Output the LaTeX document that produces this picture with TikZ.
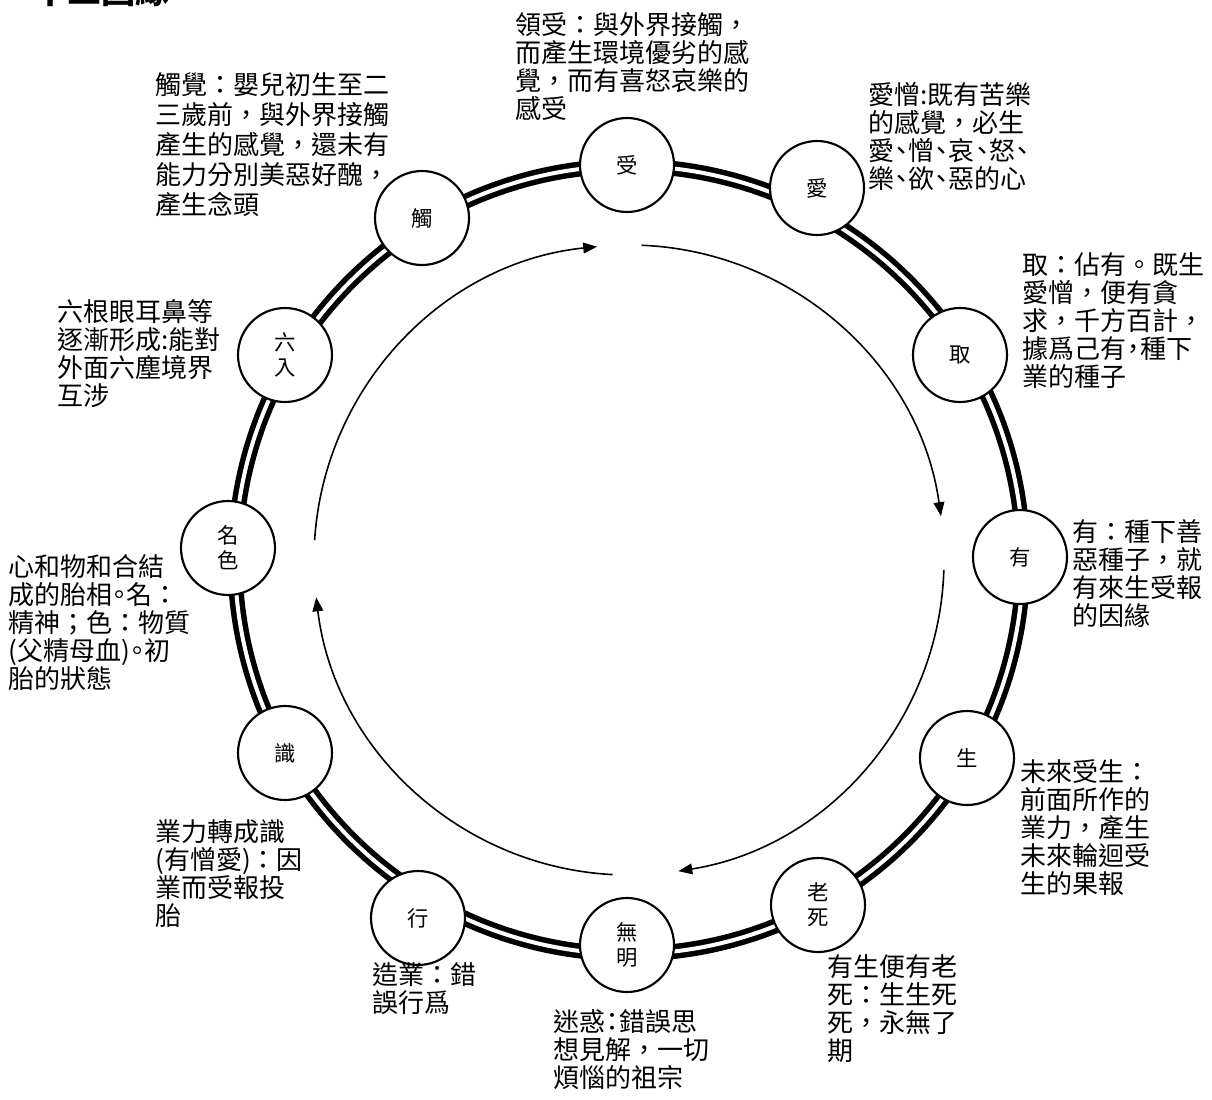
\documentclass[tikz,border=0pt]{standalone}
\usepackage{fontspec}
\setmainfont{Noto Sans CJK TC}
\usetikzlibrary{arrows.meta,calc}
\newcommand\cpct[1]{\makebox[0.55em][c]{#1}}
\tikzset{
  stage/.style={circle, draw, line width=1.6pt, fill=white, minimum size=70.5pt, inner sep=0pt,
    font=\fontsize{16}{19}\selectfont, align=center},
  desc/.style={anchor=north west, inner sep=0pt, align=left, font=\fontsize{19.5}{21}\selectfont},
  flow/.style={line width=1.2pt, -{Triangle[length=10.5pt,width=8pt]}},
  ringout/.style={line width=11.25pt, black},
  ringin/.style={line width=3pt, white}
}
\begin{document}
\begin{tikzpicture}[x=0.75pt,y=-0.75pt]
\useasboundingbox (0,0) rectangle (1212,1099);
\fill[white] (0,0) rectangle (1212,1099);
% title (cut off at top, as in the reference)
\node[anchor=base west, inner sep=0pt, font=\fontsize{25.5}{30}\selectfont\bfseries] (title) at (33,4) {十二因緣};
% ring
\coordinate (C) at (629,560);
\draw[ringout] (C) circle[radius=394];
\draw[ringin] (C) circle[radius=394];
% inner flow arcs
\draw[flow] ($(C)+(-87.7:315)$) arc[start angle=-87.7, end angle=-8, radius=315];
\draw[flow] ($(C)+(1.8:315)$) arc[start angle=1.8, end angle=81, radius=315];
\draw[flow] ($(C)+(93:315)$) arc[start angle=93, end angle=173.2, radius=315];
\draw[flow] ($(C)+(183.6:315)$) arc[start angle=183.6, end angle=264.2, radius=315];
% stages
\node[stage] (shou) at (627,165) {受};
\node[stage] (ai) at (817,188) {愛};
\node[stage] (qu) at (960,355) {取};
\node[stage] (you) at (1020,557) {有};
\node[stage] (sheng) at (967,758) {生};
\node[stage] (laosi) at (818,905) {老\\死};
\node[stage] (wuming) at (627,945) {無\\明};
\node[stage] (xing) at (418,918) {行};
\node[stage] (shi) at (285,753) {識};
\node[stage] (mingse) at (228,548) {名\\色};
\node[stage] (liuru) at (285,355) {六\\入};
\node[stage] (chu) at (422,218) {觸};
% descriptions
\node[desc] (dshou) at (515,12) {領受：與外界接觸，\\而產生環境優劣的感\\覺，而有喜怒哀樂的\\感受};
\node[desc, font=\fontsize{19.5}{22.5}\selectfont] (dchu) at (155,72) {觸覺：嬰兒初生至二\\三歲前，與外界接觸\\產生的感覺，還未有\\能力分別美惡好醜，\\產生念頭};
\node[desc] (dai) at (868,82) {愛憎:既有苦樂\\的感覺，必生\\愛\cpct{、}憎\cpct{、}哀\cpct{、}怒\cpct{、}\\樂\cpct{、}欲\cpct{、}惡的心};
\node[desc] (dqu) at (1022,252) {取：佔有。既生\\愛憎，便有貪\\求，千方百計，\\據爲己有\cpct{，}種下\\業的種子};
\node[desc] (dliuru) at (57,299) {六根眼耳鼻等\\逐漸形成:能對\\外面六塵境界\\互涉};
\node[desc] (dyou) at (1072,519) {有：種下善\\惡種子，就\\有來生受報\\的因緣};
\node[desc] (dmingse) at (8,554) {心和物和合結\\成的胎相\cpct{。}名：\\精神；色：物質\\(父精母血)\cpct{。}初\\胎的狀態};
\node[desc] (dsheng) at (1020,759) {未來受生：\\前面所作的\\業力，產生\\未來輪迴受\\生的果報};
\node[desc] (dshi) at (155,819) {業力轉成識\\(有憎愛)：因\\業而受報投\\胎};
\node[desc] (dlaosi) at (827,954) {有生便有老\\死：生生死\\死，永無了\\期};
\node[desc] (dxing) at (372,962) {造業：錯\\誤行爲};
\node[desc] (dwuming) at (553,1009) {迷惑\cpct{：}錯誤思\\想見解，一切\\煩惱的祖宗};
\end{tikzpicture}
\end{document}
